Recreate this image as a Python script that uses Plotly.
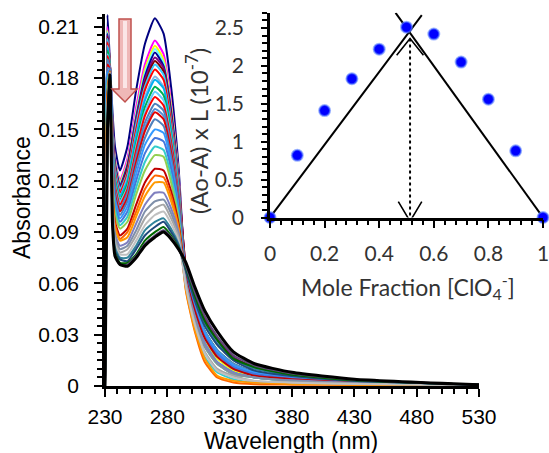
import plotly.graph_objects as go

# ---------------- main spectra data ----------------
wavelengths = [230, 232, 234, 236, 238, 242, 248, 255, 262, 270, 277, 283, 289,
               295, 302, 310, 320, 333, 350, 380, 430, 530]

spectra = [
    [0, .217, .188, .160, .140, .126, .140, .173, .200, .215, .206, .175, .128, .064, .046, .031, .020, .012, .008, .0048, .0024, .0006],
    [0, .210, .187, .153, .133, .120, .133, .163, .188, .202, .194, .166, .123, .064, .045, .029, .019, .011, .007, .0044, .0023, .0006],
    [0, .208, .187, .152, .132, .119, .131, .160, .185, .199, .191, .164, .122, .062, .042, .026, .016, .009, .006, .0037, .0020, .0006],
    [0, .207, .187, .151, .131, .118, .130, .159, .183, .197, .189, .162, .121, .060, .040, .023, .013, .007, .005, .0030, .0016, .0006],
    [0, .206, .187, .150, .130, .117, .129, .157, .181, .195, .187, .161, .120, .065, .048, .032, .021, .013, .008, .0051, .0026, .0006],
    [0, .205, .187, .149, .129, .116, .128, .156, .179, .192, .186, .159, .120, .069, .054, .040, .028, .017, .011, .0069, .0035, .0007],
    [0, .204, .187, .148, .128, .115, .127, .154, .177, .190, .184, .158, .119, .069, .053, .038, .027, .016, .011, .0066, .0033, .0007],
    [0, .203, .187, .146, .127, .115, .125, .153, .175, .188, .182, .156, .118, .061, .041, .025, .014, .008, .005, .0033, .0018, .0006],
    [0, .201, .187, .145, .125, .113, .124, .150, .173, .185, .179, .154, .117, .064, .045, .029, .019, .011, .007, .0044, .0023, .0006],
    [0, .199, .186, .143, .123, .111, .122, .147, .169, .181, .175, .151, .115, .063, .044, .028, .017, .010, .006, .0040, .0021, .0006],
    [0, .198, .186, .142, .122, .111, .120, .146, .167, .179, .174, .150, .115, .061, .041, .025, .014, .008, .005, .0033, .0018, .0006],
    [0, .196, .186, .140, .120, .109, .118, .142, .163, .175, .170, .147, .113, .065, .048, .032, .021, .013, .008, .0051, .0026, .0006],
    [0, .194, .186, .138, .118, .108, .116, .140, .160, .172, .167, .145, .112, .060, .040, .023, .013, .007, .005, .0030, .0016, .0006],
    [0, .193, .186, .137, .117, .106, .115, .138, .158, .169, .164, .143, .111, .064, .045, .029, .019, .011, .007, .0044, .0023, .0006],
    [0, .191, .186, .135, .115, .104, .113, .135, .154, .165, .161, .140, .109, .064, .046, .031, .020, .012, .008, .0048, .0024, .0006],
    [0, .189, .186, .133, .113, .103, .111, .132, .151, .162, .158, .138, .108, .065, .048, .032, .021, .013, .008, .0051, .0026, .0006],
    [0, .188, .185, .132, .112, .102, .110, .131, .149, .160, .156, .137, .107, .064, .045, .029, .019, .011, .007, .0044, .0023, .0006],
    [0, .186, .185, .130, .110, .100, .108, .128, .145, .156, .152, .134, .106, .064, .045, .029, .019, .011, .007, .0044, .0023, .0006],
    [0, .183, .185, .127, .108, .098, .105, .124, .141, .150, .148, .130, .104, .064, .046, .031, .020, .012, .008, .0048, .0024, .0006],
    [0, .181, .185, .125, .105, .096, .102, .120, .136, .145, .143, .127, .102, .064, .045, .029, .019, .011, .007, .0044, .0023, .0006],
    [0, .178, .184, .122, .103, .094, .099, .116, .131, .140, .138, .123, .100, .057, .035, .017, .008, .004, .002, .0015, .0009, .0005],
    [0, .175, .184, .119, .100, .092, .096, .112, .126, .135, .134, .119, .098, .060, .040, .023, .013, .007, .005, .0030, .0016, .0006],
    [0, .171, .184, .115, .096, .088, .092, .106, .119, .127, .126, .114, .095, .063, .044, .028, .017, .010, .006, .0040, .0021, .0006],
    [0, .169, .184, .113, .094, .086, .090, .102, .115, .123, .122, .111, .093, .055, .032, .014, .005, .002, .001, .0008, .0006, .0005],
    [0, .167, .183, .111, .092, .085, .087, .099, .111, .119, .119, .108, .092, .056, .033, .016, .006, .003, .002, .0012, .0008, .0005],
    [0, .163, .183, .108, .089, .082, .084, .095, .106, .113, .113, .104, .090, .061, .041, .025, .014, .008, .005, .0033, .0018, .0006],
    [0, .161, .183, .106, .087, .080, .082, .091, .102, .108, .109, .101, .088, .060, .040, .023, .013, .007, .005, .0030, .0016, .0006],
    [0, .159, .183, .104, .085, .078, .080, .088, .098, .104, .106, .098, .087, .058, .037, .020, .010, .006, .003, .0022, .0013, .0005],
    [0, .157, .183, .102, .083, .077, .077, .085, .094, .100, .102, .095, .085, .058, .036, .019, .009, .005, .003, .0019, .0011, .0005],
    [0, .155, .182, .100, .081, .075, .075, .082, .091, .096, .098, .092, .083, .068, .052, .037, .025, .016, .010, .0062, .0031, .0007],
    [0, .153, .182, .098, .079, .074, .073, .080, .088, .093, .096, .090, .082, .067, .050, .035, .024, .015, .009, .0058, .0030, .0006],
    [0, .152, .182, .097, .078, .072, .072, .077, .085, .090, .093, .088, .081, .069, .053, .038, .027, .016, .011, .0066, .0033, .0007],
    [0, .151, .182, .096, .077, .071, .071, .076, .083, .088, .091, .087, .080, .070, .055, .041, .029, .018, .012, .0073, .0037, .0007],
    [0, .150, .182, .095, .076, .071, .070, .075, .082, .087, .090, .086, .080, .072, .058, .044, .032, .020, .013, .0080, .0040, .0007],
]

series_colors = [
    "#000080", "#FF00FF", "#FFFF00", "#66FFFF", "#000099", "#800080", "#800000",
    "#33CCFF", "#FF0000", "#8DB4E2", "#00B0F0", "#00B050", "#66CCFF", "#FF0000",
    "#4F81BD", "#558ED5", "#E00000", "#4F81BD", "#3399FF", "#4477DD", "#33CCCC",
    "#92D050", "#C00000", "#FF6600", "#FF9900", "#8080C0", "#7F8FA9", "#A6A6A6",
    "#C0C0C0", "#31849B", "#1F497D", "#006600", "#60497A", "#000000",
]

wl_ticks = [230, 280, 330, 380, 430, 480, 530]
abs_ticks = [0, 0.03, 0.06, 0.09, 0.12, 0.15, 0.18, 0.21]
abs_labels = ["0", "0.03", "0.06", "0.09", "0.12", "0.15", "0.18", "0.21"]

# ---------------- inset (Job's plot) data ----------------
mole_fraction = [0, 0.1, 0.2, 0.3, 0.4, 0.5, 0.6, 0.7, 0.8, 0.9, 1.0]
ao_minus_a = [0, 0.82, 1.41, 1.83, 2.22, 2.51, 2.42, 2.05, 1.56, 0.88, 0]

fit_left_x = [0, 0.556]
fit_left_y = [0, 2.67]
fit_right_x = [0.46, 1.0]
fit_right_y = [2.70, 0]
drop_x = [0.513, 0.513]
drop_y = [2.36, 0.0]
head_top_x = [0.464, 0.513, 0.562]
head_top_y = [2.14, 2.36, 2.14]
head_bot_x = [0.47, 0.513, 0.556]
head_bot_y = [0.21, -0.05, 0.21]

mf_ticks = [0, 0.2, 0.4, 0.6, 0.8, 1.0]
mf_labels = ["0", "0.2", "0.4", "0.6", "0.8", "1"]
aoa_ticks = [0, 0.5, 1, 1.5, 2, 2.5]
aoa_labels = ["0", "0.5", "1", "1.5", "2", "2.5"]

W, H = 549, 453


def px(x):
    return x / W


def py(y):
    return 1 - y / H


fig = go.Figure()

for i, (row, col) in enumerate(zip(spectra, series_colors)):
    fig.add_trace(go.Scatter(
        x=wavelengths, y=row, mode="lines",
        line=dict(color=col, width=3 if i == len(spectra) - 1 else 2,
                  shape="spline", smoothing=0.5),
        hoverinfo="skip", showlegend=False, xaxis="x", yaxis="y"))

# inset
line_style = dict(color="black", width=2)
fig.add_trace(go.Scatter(x=fit_left_x, y=fit_left_y, mode="lines", line=line_style,
                         showlegend=False, xaxis="x2", yaxis="y2"))
fig.add_trace(go.Scatter(x=fit_right_x, y=fit_right_y, mode="lines", line=line_style,
                         showlegend=False, xaxis="x2", yaxis="y2"))
fig.add_trace(go.Scatter(x=drop_x, y=drop_y, mode="lines",
                         line=dict(color="black", width=2, dash="dot"),
                         showlegend=False, xaxis="x2", yaxis="y2"))
fig.add_trace(go.Scatter(x=head_top_x, y=head_top_y, mode="lines", line=dict(color="black", width=1.6),
                         showlegend=False, xaxis="x2", yaxis="y2"))
fig.add_trace(go.Scatter(x=head_bot_x, y=head_bot_y, mode="lines", line=dict(color="black", width=1.6),
                         showlegend=False, xaxis="x2", yaxis="y2"))
fig.add_trace(go.Scatter(x=mole_fraction, y=ao_minus_a, mode="markers",
                         marker=dict(size=11, color="#0000FF",
                                     line=dict(color="rgba(90,130,255,0.6)", width=2)),
                         cliponaxis=False, showlegend=False, xaxis="x2", yaxis="y2"))

main_font = dict(family="Liberation Sans, Arial, sans-serif", size=21, color="black")
inset_font = dict(family="Lato, Open Sans, sans-serif", size=21, color="#333333")

fig.update_layout(
    width=W, height=H,
    margin=dict(l=0, r=0, t=0, b=0, autoexpand=False),
    paper_bgcolor="white", plot_bgcolor="rgba(0,0,0,0)",
    showlegend=False,
    xaxis=dict(domain=[px(105), px(479)], range=[230, 530],
               tickvals=wl_ticks, ticktext=[str(v) for v in wl_ticks],
               ticks="outside", ticklen=8, tickwidth=2, tickcolor="black",
               showline=True, linecolor="black", linewidth=2.5,
               showgrid=False, zeroline=False, tickfont=main_font,
               ticklabelstandoff=2, automargin=False,
               minor=dict(dtick=10, tick0=230, ticks="outside", ticklen=5,
                          tickwidth=2, tickcolor="black", showgrid=False),
               anchor="y"),
    yaxis=dict(domain=[py(386), py(14)], range=[0, 0.2175],
               tickvals=abs_ticks, ticktext=abs_labels,
               ticks="outside", ticklen=8, tickwidth=2, tickcolor="black",
               showline=True, linecolor="black", linewidth=2.5,
               showgrid=False, zeroline=False, tickfont=main_font,
               ticklabelstandoff=11, automargin=False,
               minor=dict(dtick=0.005, tick0=0, ticks="outside", ticklen=5,
                          tickwidth=2, tickcolor="black", showgrid=False),
               anchor="x"),
    xaxis2=dict(domain=[px(270), px(543)], range=[0, 1.0],
                tickvals=mf_ticks, ticktext=mf_labels,
                ticks="outside", ticklen=8, tickwidth=2, tickcolor="black",
                showline=True, linecolor="black", linewidth=2.5,
                showgrid=False, zeroline=False, tickfont=inset_font,
                ticklabelstandoff=8, automargin=False, ticklabeloverflow="allow",
                minor=dict(dtick=0.04, tick0=0, ticks="outside", ticklen=5,
                           tickwidth=2, tickcolor="black", showgrid=False),
                anchor="y2"),
    yaxis2=dict(domain=[py(217.5), py(12.8)], range=[0, 2.7],
                tickvals=aoa_ticks, ticktext=aoa_labels,
                ticks="outside", ticklen=6, tickwidth=2, tickcolor="black",
                showline=True, linecolor="black", linewidth=2.5,
                showgrid=False, zeroline=False, tickfont=inset_font,
                ticklabelstandoff=13, automargin=False, ticklabeloverflow="allow",
                minor=dict(dtick=0.1, tick0=0, ticks="outside", ticklen=5,
                           tickwidth=2, tickcolor="black", showgrid=False),
                anchor="x2"),
)

# block arrow (pink, pointing down)
arrow_pts = [(119, 19), (131, 19), (131, 89), (137, 89), (125, 102), (112, 89), (119, 89)]
path = "M " + " L ".join(f"{px(x):.5f},{py(y):.5f}" for x, y in arrow_pts) + " Z"
fig.add_shape(type="path", path=path, xref="paper", yref="paper",
              fillcolor="#EFB8B7", line=dict(color="#C0504D", width=1.5), layer="above")
fig.add_shape(type="rect", xref="paper", yref="paper",
              x0=px(123), x1=px(127), y0=py(88), y1=py(21),
              fillcolor="#FBE6E6", line=dict(width=0), layer="above")

# titles
ann_common = dict(xref="paper", yref="paper", showarrow=False, xanchor="center", yanchor="middle")
fig.add_annotation(text="Absorbance", x=px(22), y=py(198), textangle=-90,
                   font=dict(family="Liberation Sans, Arial, sans-serif", size=23, color="black"),
                   **ann_common)
fig.add_annotation(text="Wavelength (nm)", x=px(291), y=py(441),
                   font=dict(family="Liberation Sans, Arial, sans-serif", size=23, color="black"),
                   **ann_common)
fig.add_annotation(text="(Ao-A) x L (10<sup>-7</sup>)", x=px(197), y=py(131), textangle=-90,
                   font=dict(family="Lato, Open Sans, sans-serif", size=24, color="#333333"),
                   **ann_common)
fig.add_annotation(text="Mole Fraction [ClO<sub>4</sub><sup>-</sup>]", x=px(408), y=py(286),
                   font=dict(family="Lato, Open Sans, sans-serif", size=23, color="#333333"),
                   **ann_common)

fig.write_html("out.html")
